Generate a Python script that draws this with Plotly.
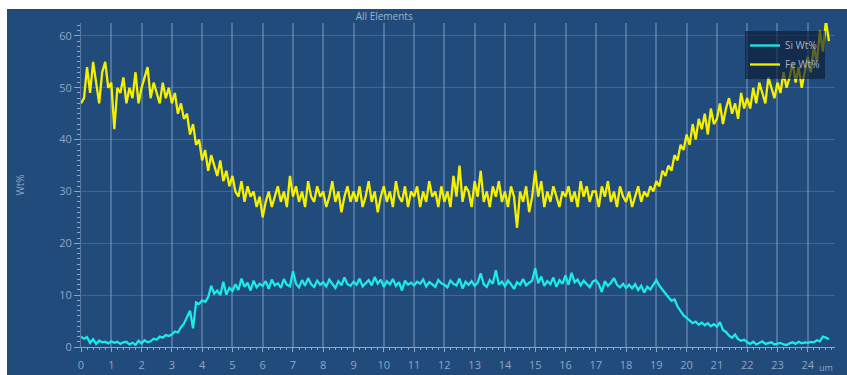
import plotly.graph_objects as go

# Line-scan profile, sampled every 0.1 um
step_um = 0.1

fe_wt = [
    47, 48, 54, 49, 55, 51, 47, 53, 55, 50,
    51, 42, 50, 49, 52, 47, 50, 48, 53, 47,
    50, 52, 54, 48, 51, 49, 47, 51, 48, 50,
    47, 49, 45, 47, 44, 45, 41, 43, 39, 40,
    36, 38, 34, 37, 35, 33, 36, 32, 34, 31,
    33, 30, 29, 32, 28, 31, 29, 30, 27, 29,
    25, 28, 30, 27, 29, 31, 28, 30, 27, 33,
    29, 31, 28, 30, 27, 32, 29, 28, 31, 29,
    30, 27, 29, 32, 28, 30, 26, 29, 31, 28,
    30, 28, 31, 27, 29, 32, 28, 30, 26, 29,
    31, 28, 30, 27, 32, 29, 28, 31, 27, 30,
    29, 31, 27, 30, 28, 32, 29, 30, 27, 31,
    28, 30, 27, 33, 29, 35, 28, 31, 30, 27,
    32, 29, 34, 28, 30, 27, 31, 29, 32, 28,
    30, 27, 31, 29, 23, 30, 28, 31, 26, 29,
    34, 29, 32, 27, 30, 28, 31, 29, 27, 30,
    29, 31, 28, 30, 27, 32, 29, 31, 28, 30,
    30, 27, 31, 29, 32, 28, 30, 27, 31, 29,
    28, 30, 27, 29, 31, 28, 30, 29, 31, 30,
    32, 31, 34, 33, 35, 34, 37, 36, 39, 38,
    41, 39, 43, 40, 44, 42, 45, 41, 46, 43,
    44, 47, 43, 46, 48, 45, 47, 44, 49, 46,
    48, 46, 50, 47, 51, 49, 47, 52, 50, 48,
    51, 49, 53, 50, 52, 55, 51, 54, 50, 53,
    56, 53, 58, 55, 61, 57, 63, 59,
]

si_wt = [
    2.0, 1.6, 1.9, 0.8, 1.5, 0.6, 1.2, 0.9, 1.0, 0.7,
    1.1, 0.8, 1.0, 0.6, 0.9, 1.0, 0.5, 0.8, 0.4, 1.2,
    0.7, 1.3, 0.9, 1.1, 1.6, 1.4, 2.0, 1.8, 2.3, 2.1,
    2.4, 3.0, 2.8, 3.8, 4.5, 5.8, 7.0, 3.6, 8.6, 8.3,
    9.0, 8.7, 9.6, 11.8, 10.3, 10.9, 10.0, 12.6, 10.1, 11.4,
    10.8, 12.1, 11.0, 13.2, 11.6, 12.4, 10.9, 12.8, 11.5, 12.2,
    11.8, 12.7, 11.2, 13.0, 11.9, 12.3, 11.4, 13.1, 12.0, 11.7,
    14.6, 12.2, 11.5, 12.9, 11.8, 13.3, 12.1, 11.6, 12.8, 12.0,
    12.5, 11.7, 13.0, 12.2, 11.4, 12.7, 11.9, 13.4, 12.1, 11.8,
    12.6, 12.0, 13.2, 11.7, 12.4, 12.9, 11.9, 13.5, 12.2, 13.0,
    11.6, 12.7, 12.1, 13.1, 11.8, 12.5, 10.9, 12.8, 12.0, 12.4,
    11.9, 12.6, 12.2, 13.0, 11.7, 12.5, 12.1, 11.6, 12.9, 12.3,
    12.0, 11.5, 12.8, 12.2, 11.9, 13.2, 11.3, 12.6, 12.0, 12.7,
    11.8, 12.4, 14.2, 12.1, 11.6, 12.9, 12.2, 14.8, 12.0, 12.6,
    11.7, 12.8, 12.1, 11.2, 12.5, 12.0, 13.1, 11.9, 12.4, 12.8,
    15.2, 12.3, 13.6, 11.8, 12.7, 12.1, 13.4, 11.6, 12.9, 12.2,
    13.8, 12.0, 14.3, 12.5, 13.0, 11.9, 12.8, 12.2, 11.5, 12.6,
    12.9, 12.1, 10.6, 12.7, 11.8, 12.4, 13.3, 12.0, 11.5, 12.2,
    11.4, 12.0, 11.3, 12.1, 11.0, 11.8, 10.5, 11.6, 11.1, 12.0,
    12.9, 11.8, 11.0, 10.2, 9.6, 8.9, 9.2, 7.8, 6.9, 6.1,
    5.6, 5.1, 4.6, 4.9, 4.3, 4.7, 4.2, 4.6, 4.0, 4.4,
    3.9, 4.8, 3.3, 2.9, 2.2, 1.8, 2.4, 1.5, 1.2, 1.4,
    0.9, 0.6, 1.0, 0.5, 0.8, 1.1, 0.6, 0.7, 0.9, 0.5,
    0.6, 0.8, 0.5, 0.4, 0.7, 0.9, 0.6, 1.0, 0.7, 0.9,
    0.8, 1.0, 0.9, 1.3, 1.1, 2.0, 1.8, 1.5,
]

distance_um = [round(i * step_um, 1) for i in range(len(fe_wt))]

BG = "#214b7b"
GRID_V = "rgba(160,190,225,0.36)"
GRID_H = "rgba(150,180,220,0.26)"
AXIS = "#8ea7c6"
TEXT = "#8fa6c4"

W, H = 847, 375
L, R, T, B = 81, 12, 23, 28
pw, ph = W - L - R, H - T - B


def px_x(x):
    return (x - L) / pw


def px_y(y):
    return (H - B - y) / ph


fig = go.Figure()
fig.add_trace(go.Scatter(
    x=distance_um, y=si_wt, mode="lines", name="Si Wt%",
    line=dict(color="#1de9e6", width=2.3),
))
fig.add_trace(go.Scatter(
    x=distance_um, y=fe_wt, mode="lines", name="Fe Wt%",
    line=dict(color="#f4f000", width=2.3),
))

fig.update_layout(
    width=W, height=H,
    margin=dict(l=L, r=R, t=T, b=B, pad=0, autoexpand=False),
    paper_bgcolor=BG,
    plot_bgcolor=BG,
    font=dict(family="Open Sans, sans-serif", size=11, color=TEXT),
    title=dict(text="All Elements", x=px_x(423), xanchor="center",
               y=1 - 16 / H, yanchor="middle",
               font=dict(size=10, color="#9fb3cc")),
    showlegend=True,
    legend=dict(
        x=px_x(745), y=px_y(31), xanchor="left", yanchor="top",
        bgcolor="rgba(12,28,52,0.65)", borderwidth=0,
        font=dict(size=10, color="#a7b3c2"),
        itemwidth=30, tracegroupgap=0,
    ),
    xaxis=dict(
        range=[0, 24.9], dtick=1, tick0=0, automargin=False,
        showgrid=True, gridcolor=GRID_V, gridwidth=1.5,
        zeroline=False, showline=True, linecolor=AXIS, linewidth=1,
        ticks="outside", ticklen=4, tickcolor=AXIS,
        ticklabelstandoff=4,
        tickfont=dict(size=11, color=TEXT),
        minor=dict(dtick=0.2, ticks="outside", ticklen=2, tickcolor=AXIS, showgrid=False),
    ),
    yaxis=dict(
        range=[0, 62.5], dtick=10, tick0=0, automargin=False,
        showgrid=True, gridcolor=GRID_H, gridwidth=1,
        zeroline=False, showline=True, linecolor="rgba(142,167,198,0.5)", linewidth=1,
        ticks="outside", ticklen=6, tickcolor=AXIS,
        tickfont=dict(size=11, color=TEXT),
        title=dict(text="Wt%", standoff=32, font=dict(size=10, color=TEXT)),
        minor=dict(dtick=1, ticks="outside", ticklen=3, tickcolor=AXIS, showgrid=False),
    ),
    shapes=[
        # white frame strips along the top and left edges
        dict(type="rect", xref="paper", yref="paper",
             x0=px_x(0), x1=px_x(W), y0=px_y(9), y1=px_y(0),
             fillcolor="white", line=dict(width=0), layer="above"),
        dict(type="rect", xref="paper", yref="paper",
             x0=px_x(0), x1=px_x(7), y0=px_y(H), y1=px_y(0),
             fillcolor="white", line=dict(width=0), layer="above"),
    ],
    annotations=[
        dict(text="um", xref="paper", yref="paper", x=px_x(826), y=px_y(367),
             xanchor="center", yanchor="middle", showarrow=False,
             font=dict(size=9, color=TEXT)),
    ],
)

fig.write_html("out.html")
